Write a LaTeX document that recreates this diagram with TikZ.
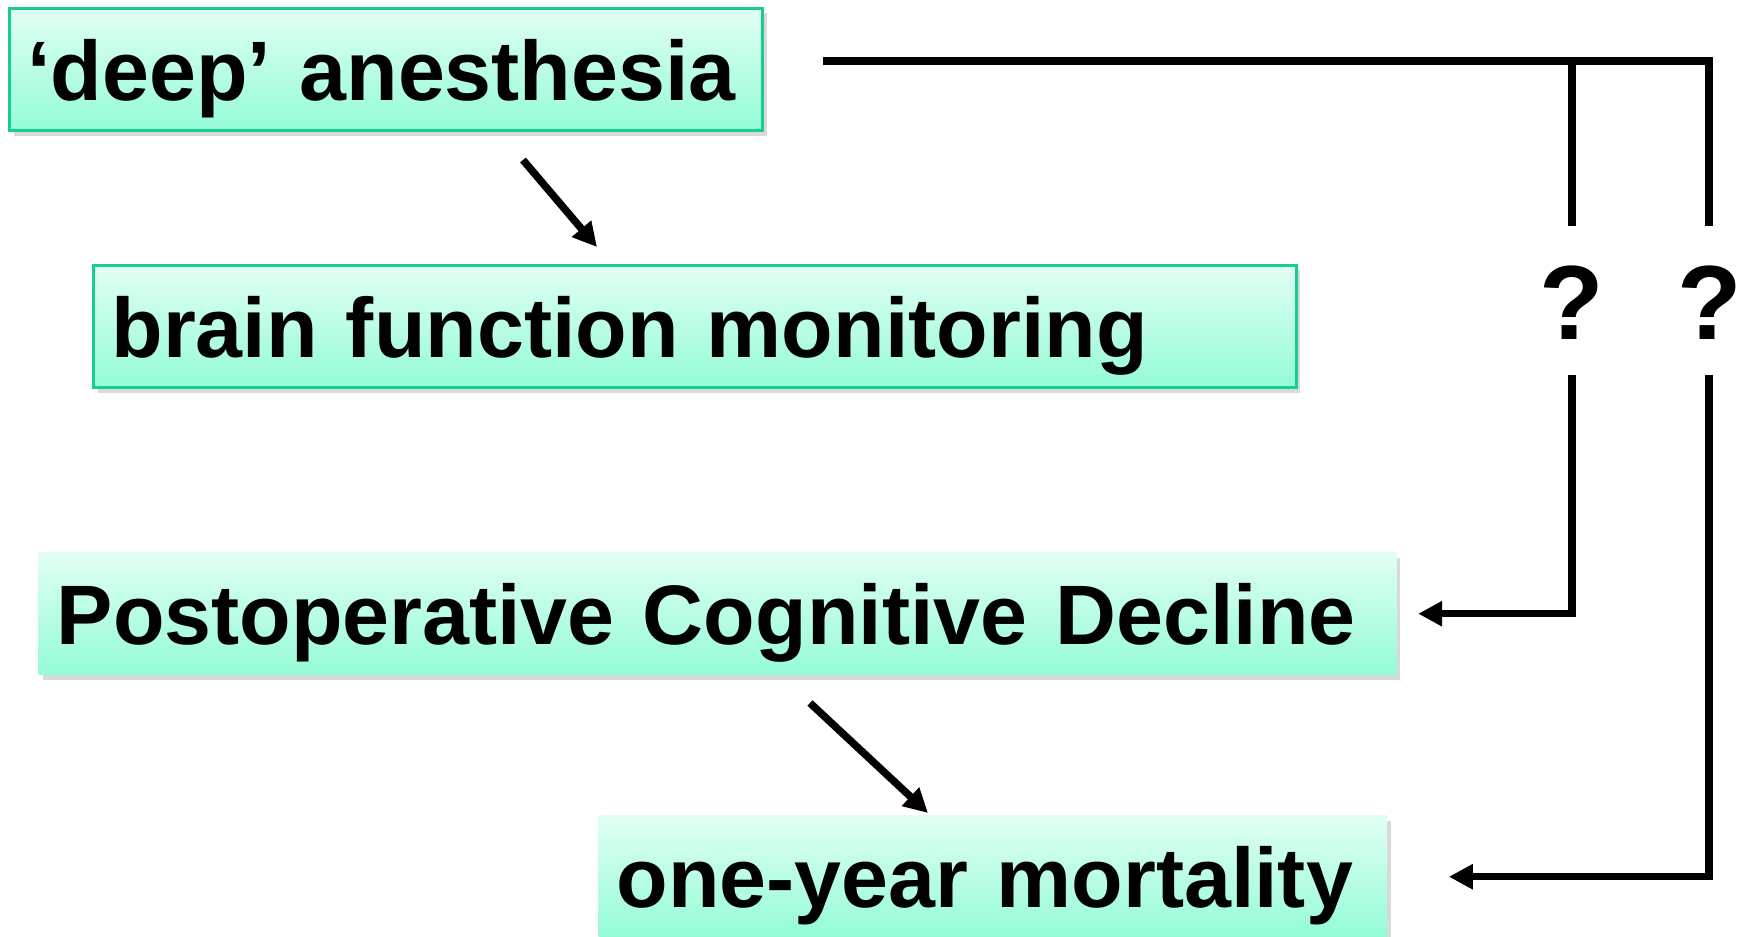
\documentclass[tikz,border=0pt]{standalone}
\usepackage{fontspec}
\setmainfont{Liberation Sans}
\usepackage{xcolor}
\usetikzlibrary{positioning, calc, shadows, arrows.meta}

\definecolor{boxtop}{RGB}{224,255,242}
\definecolor{boxbot}{RGB}{148,252,214}
\definecolor{boxline}{RGB}{24,204,152}

\begin{document}
\begin{tikzpicture}[
    x=0.01cm, y=-0.01cm,
    box/.style={
        rectangle, anchor=north west, top color=boxtop, bottom color=boxbot,
        minimum height=1.22cm, inner xsep=0.18cm, inner ysep=0pt,
        align=left, text height=19.4pt, text depth=1.7pt,
        font=\fontsize{24}{29}\selectfont\bfseries,
        drop shadow={shadow xshift=0.04cm, shadow yshift=-0.05cm, opacity=0.3}
    },
    framed/.style={draw=boxline, line width=0.03cm},
    link/.style={line width=0.075cm},
    leads/.style={link, -{Triangle[length=0.24cm, width=0.24cm]}},
    query/.style={font=\fontsize{30}{36}\selectfont\bfseries, inner sep=0pt}
]
\useasboundingbox (0,0) rectangle (1738,937);

% 1. Boxes (left column, top to bottom)
\node[box, framed, text width=7.17cm] (deep) at (8,7) {‘deep’ anesthesia};
\node[box, framed, text width=11.66cm] (brain) at (92,264) {brain function monitoring};
\node[box, text width=13.21cm] (pocd) at (38,552) {Postoperative Cognitive Decline};
\node[box, text width=7.52cm] (mort) at (598,815) {one-year mortality};

% 2. Question marks on the right
\node[query, anchor=base] (q1) at (1572,340) {?};
\node[query, anchor=base] (q2) at (1710,340) {?};

% 3. Free ends of the connectors
\coordinate (fork) at (823,61);
\coordinate (q1top) at (1572,226);
\coordinate (q2top) at (1709,226);
\coordinate (q1bot) at (1572,375);
\coordinate (q2bot) at (1709,375);
\coordinate (a1) at (523,160);
\coordinate (a2) at (597,247);
\coordinate (b1) at (810,703);
\coordinate (b2) at (928,813);

% 4. Relationships
\draw[leads] (a1) -- (a2);
\draw[leads] (b1) -- (b2);

% bracket from the top box down to the two question marks
\draw[link] (fork) -| (q2top);
\draw[link] (q1top |- fork) -- (q1top);

% and on to the two outcomes
\draw[leads, shorten >=0.21cm] (q1bot) |- (pocd.east);
\draw[leads, shorten >=0.61cm] (q2bot) |- (mort.east);

\end{tikzpicture}
\end{document}
